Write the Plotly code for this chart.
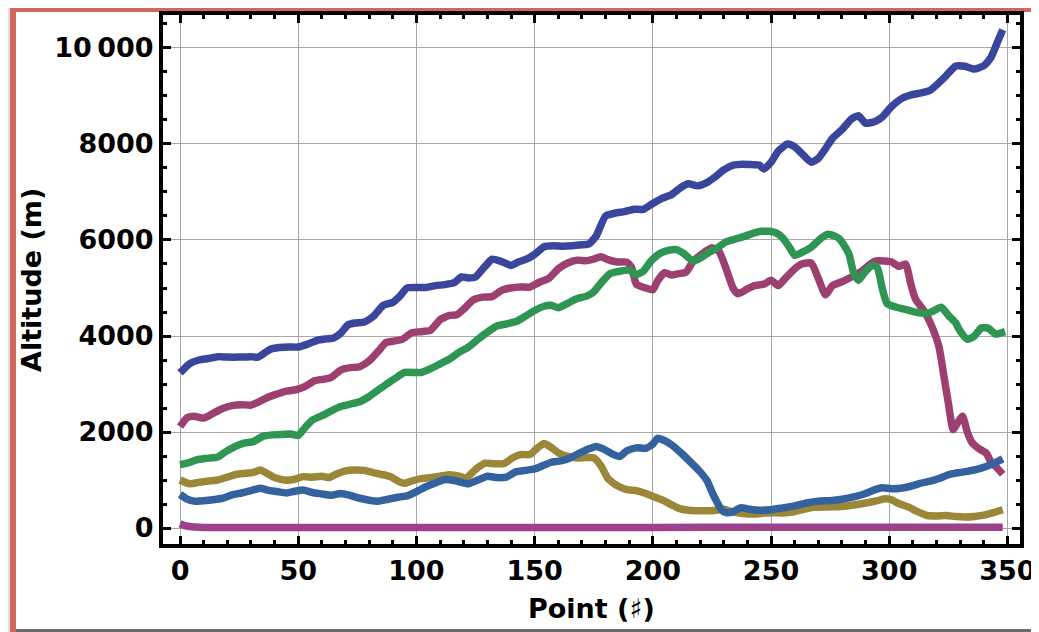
import plotly.graph_objects as go

# ---------------- data ----------------
x_s1 = [0,4,8,12,16,20,25,30,33,38,42,46,50,54,58,62,65,68,71,74,78,82,86,90,93,96,100,104,108,112,116,119,122,125,129,132,136,140,143,147,150,154,158,162,166,170,173,176,180,184,188,192,196,200,204,208,212,215,219,223,226,230,234,238,242,245,247,250,253,257,260,263,267,270,273,276,280,284,287,290,294,297,301,305,309,313,317,320,324,328,332,336,340,343,346,348]
y_s1 = [3230,3420,3500,3530,3570,3560,3560,3570,3560,3720,3760,3770,3770,3830,3910,3940,3960,4060,4230,4270,4290,4420,4640,4700,4830,5000,5010,5010,5050,5070,5110,5230,5210,5230,5450,5600,5550,5470,5540,5610,5700,5860,5880,5870,5880,5900,5920,6080,6500,6560,6590,6640,6640,6760,6870,6950,7100,7170,7130,7200,7300,7460,7560,7580,7570,7560,7480,7620,7850,8000,7940,7800,7620,7700,7900,8120,8300,8520,8590,8430,8470,8560,8780,8940,9020,9060,9110,9230,9420,9620,9620,9560,9630,9800,10150,10380]

x_s2 = [0,3,6,10,14,18,22,26,30,33,37,41,45,49,53,57,61,64,68,72,76,80,84,87,90,94,98,102,106,110,114,117,120,124,128,132,136,140,144,148,152,156,160,164,168,172,175,178,181,185,189,191,193,197,200,202,205,208,211,214,217,221,225,228,231,234,236,240,243,247,250,253,256,260,263,267,270,273,276,280,284,288,291,294,298,301,304,307,309,311,315,318,321,323,325,327,329,331,333,335,338,341,343,346,348]
y_s2 = [2110,2300,2330,2290,2390,2490,2550,2570,2560,2620,2720,2790,2850,2880,2950,3070,3100,3140,3290,3340,3360,3480,3690,3860,3890,3930,4070,4090,4120,4340,4430,4440,4560,4750,4810,4820,4950,5000,5020,5020,5120,5200,5400,5520,5580,5570,5600,5650,5590,5540,5540,5430,5080,5000,4960,5150,5320,5270,5300,5330,5550,5720,5840,5760,5400,4990,4880,4980,5050,5080,5160,5050,5200,5400,5500,5520,5200,4860,5050,5130,5230,5340,5460,5560,5560,5540,5450,5500,5100,4780,4500,4200,3780,3200,2600,2050,2200,2330,2000,1780,1650,1560,1380,1230,1120]

x_s3 = [0,3,7,11,16,19,23,27,31,35,39,43,47,50,53,56,60,64,68,72,76,80,84,88,92,95,99,102,106,110,114,118,122,126,130,134,138,142,146,150,154,157,160,164,168,172,175,178,182,186,190,193,196,199,203,207,210,213,217,220,224,227,231,235,239,243,246,249,252,255,258,260,263,267,271,274,277,279,281,283,285,287,290,293,295,297,299,303,308,312,316,319,322,325,328,330,333,336,339,342,345,347,349]
y_s3 = [1320,1350,1420,1450,1480,1580,1690,1770,1800,1910,1940,1950,1960,1930,2100,2250,2340,2440,2530,2580,2630,2740,2880,3020,3150,3240,3240,3240,3320,3420,3520,3660,3770,3930,4080,4210,4250,4300,4410,4530,4620,4640,4590,4680,4780,4830,4920,5100,5300,5350,5370,5280,5350,5550,5720,5790,5800,5720,5560,5620,5750,5830,5960,6020,6080,6150,6180,6180,6150,6040,5830,5680,5740,5850,6030,6120,6080,6020,5880,5700,5300,5160,5350,5480,5420,5000,4680,4600,4540,4490,4470,4530,4600,4430,4280,4100,3930,4000,4170,4160,4040,4060,4090]

x_s4 = [0,4,8,12,16,20,24,28,31,34,37,40,44,48,52,56,60,63,66,70,74,78,82,86,89,92,95,98,102,106,110,114,118,121,125,129,133,137,141,144,148,151,154,157,160,164,168,172,175,178,181,185,189,193,197,201,205,208,211,215,220,226,230,234,238,243,247,251,255,259,263,268,274,280,285,290,295,298,301,304,308,312,316,320,324,328,332,336,340,344,348]
y_s4 = [1000,920,950,980,1000,1060,1120,1140,1160,1210,1130,1050,1000,1010,1070,1060,1080,1050,1120,1190,1210,1200,1150,1110,1070,980,930,980,1030,1050,1080,1110,1080,1040,1220,1350,1340,1340,1470,1530,1530,1660,1760,1680,1570,1490,1460,1470,1460,1300,1030,880,800,780,720,640,560,480,410,370,360,365,390,330,300,290,310,320,315,330,380,430,440,450,480,520,570,610,590,510,440,340,260,250,260,240,230,240,270,320,380]

x_s5 = [0,3,6,10,14,18,22,26,30,34,37,41,45,49,52,56,60,64,68,72,76,80,84,88,92,96,100,104,108,112,116,119,122,126,130,134,138,142,146,150,154,157,161,165,169,173,176,179,183,186,189,193,197,200,202,205,208,212,216,220,223,225,227,229,231,234,237,241,245,250,255,260,265,270,275,280,285,290,294,297,301,305,309,313,317,321,325,329,333,337,341,344,348]
y_s5 = [700,600,560,570,590,620,690,730,780,830,790,760,730,770,790,740,710,680,720,680,620,580,560,600,640,670,760,860,940,1010,990,950,920,1000,1080,1050,1060,1170,1200,1230,1310,1370,1400,1460,1560,1650,1700,1650,1540,1490,1610,1670,1660,1750,1870,1820,1730,1560,1370,1170,980,750,550,380,320,340,420,390,370,380,420,460,520,560,570,600,650,720,800,840,820,830,870,930,970,1030,1110,1150,1180,1220,1280,1340,1440]

x_s6 = [0,2,5,10,50,100,150,200,250,300,348]
y_s6 = [90,50,25,12,10,10,12,12,15,15,18]

series = [
    (x_s1, y_s1, "#3a469c"),
    (x_s2, y_s2, "#9c406f"),
    (x_s3, y_s3, "#2e9553"),
    (x_s4, y_s4, "#9a8738"),
    (x_s5, y_s5, "#33629e"),
    (x_s6, y_s6, "#9c418c"),
]

x_ticks = [0, 50, 100, 150, 200, 250, 300, 350]
y_ticks = [0, 2000, 4000, 6000, 8000, 10000]
y_ticktext = ["0", "2000", "4000", "6000", "8000", "10\u2009000"]
x_title = "Point (\u266f)"
y_title = "Altitude (m)"

# ---------------- layout geometry ----------------
# The page body has an 8 px default margin, so figure pixels = window pixels - 8.
OFF = 8
W, H = 1039 - OFF, 632 - OFF
L, R, T, B = 163 - OFF, 1020 - OFF, 15 - OFF, 544 - OFF
pw, ph = R - L, B - T


def px(xw):  # window x pixel -> paper coordinate
    return (xw - OFF - L) / pw


def py(yw):  # window y pixel -> paper coordinate
    return (B - (yw - OFF)) / ph


fig = go.Figure()
for xs, ys, c in series:
    fig.add_trace(go.Scatter(x=xs, y=ys, mode="lines",
                             line=dict(color=c, width=7.5, shape="spline", smoothing=0.5),
                             showlegend=False, hoverinfo="skip"))

font_family = "DejaVu Sans, Liberation Sans, Arial, sans-serif"
tickfont = dict(family=font_family, size=27, color="black", weight="bold")

axis_common = dict(
    showline=True, linecolor="black", linewidth=4, mirror="ticks",
    ticks="inside", ticklen=8, tickwidth=3, tickcolor="black",
    showgrid=True, gridcolor="#a8a8a8", gridwidth=1,
    zeroline=False, tickfont=tickfont,
)

fig.update_xaxes(range=[-7.2, 355.3], tickmode="array", tickvals=x_ticks,
                 minor=dict(ticks="inside", ticklen=4, tickwidth=3, tickcolor="black",
                            dtick=10, tick0=0, showgrid=False),
                 **axis_common)
fig.update_yaxes(range=[-333, 10687], tickmode="array", tickvals=y_ticks, ticktext=y_ticktext,
                 minor=dict(ticks="inside", ticklen=4, tickwidth=3, tickcolor="black",
                            dtick=500, tick0=0, showgrid=False),
                 **axis_common)

shapes = [
    # red frame of the slide
    dict(type="rect", xref="paper", yref="paper", layer="below",
         x0=px(10), x1=px(1045), y0=py(640), y1=py(8),
         fillcolor="#d0675f", line=dict(width=0)),
    # white interior
    dict(type="rect", xref="paper", yref="paper", layer="below",
         x0=px(16), x1=px(1036), y0=py(629), y1=py(12),
         fillcolor="white", line=dict(width=0)),
    # bottom dark line
    dict(type="rect", xref="paper", yref="paper", layer="below",
         x0=px(16), x1=px(1036), y0=py(640), y1=py(629),
         fillcolor="#6a6a6a", line=dict(width=0)),
]

title_font = dict(family=font_family, size=27, color="black", weight="bold")
annotations = [
    dict(text=x_title, xref="paper", yref="paper", x=px(591), y=py(608),
         xanchor="center", yanchor="middle", showarrow=False, font=title_font),
    dict(text=y_title, xref="paper", yref="paper", x=px(31), y=py(280),
         xanchor="center", yanchor="middle", showarrow=False, textangle=-90, font=title_font),
]

fig.update_layout(
    width=W, height=H,
    margin=dict(l=L, r=W - R, t=T, b=H - B, autoexpand=False),
    paper_bgcolor="#dfe1de", plot_bgcolor="white",
    shapes=shapes, annotations=annotations,
)

fig.write_html("out.html")
